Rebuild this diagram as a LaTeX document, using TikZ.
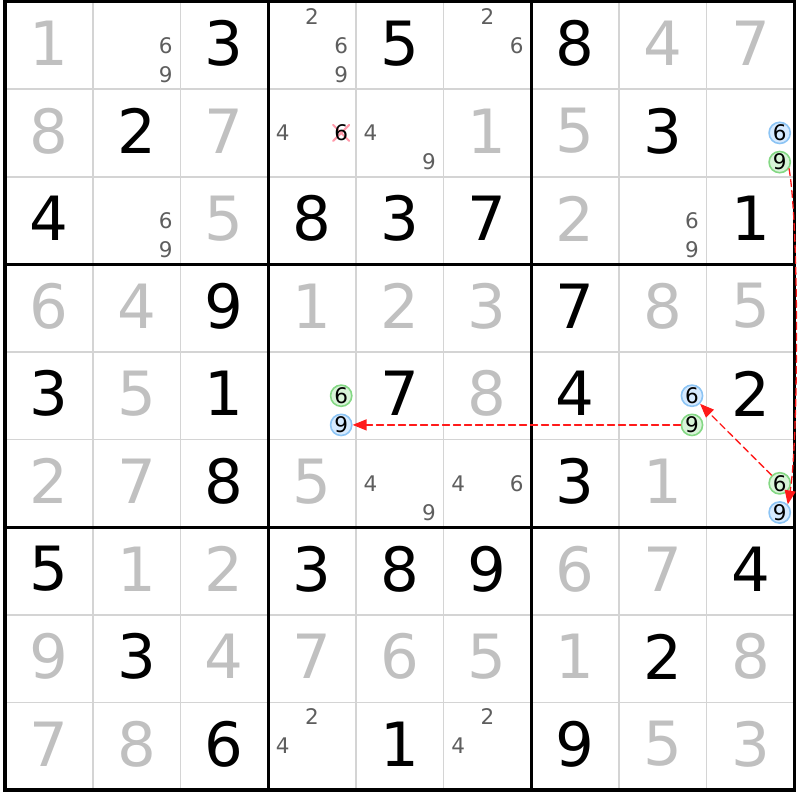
\documentclass[tikz,border=0pt]{standalone}
\usepackage{fontspec}
\setmainfont{DejaVu Sans}
\usetikzlibrary{arrows.meta}

\definecolor{solvedgrey}{HTML}{C0C0C0}
\definecolor{pencil}{HTML}{5E5E5E}
\definecolor{thingrey}{HTML}{D4D4D4}
\definecolor{bluefill}{HTML}{D6EAFF}
\definecolor{bluering}{HTML}{8CC4F4}
\definecolor{greenfill}{HTML}{D8F4D8}
\definecolor{greenring}{HTML}{84D884}
\definecolor{chainred}{HTML}{FF1A1A}
\definecolor{crosspink}{HTML}{FF9AAA}

\newcommand{\given}[3]{
  \node[given] (v#2#1) at ({#1 + 0.5}, {#2 + 0.5}) {#3};}
\newcommand{\placed}[3]{
  \node[given, text = solvedgrey] (v#2#1) at ({#1 + 0.5}, {#2 + 0.5}) {#3};}
\newcommand{\cand}[4][]{
  \node[cand, #1] (c#3#2#4) at ({#2 + (mod(#4 - 1, 3) + 0.5)/3},
  {#3 + (floor((#4 - 1)/3) + 0.5)/3}) {#4};}

\begin{document}
\begin{tikzpicture}[x = 87.7pt, y = -87.6pt, line cap = round, line join = round,
  given/.style = {font = \fontsize{61}{61}\selectfont, inner sep = 0, yshift = 2pt},
  cand/.style = {font = \fontsize{21.5}{21.5}\selectfont, text = pencil, inner sep = 0},
  bluedot/.style = {circle, draw = bluering, fill = bluefill, line width = 1.6pt,
    minimum size = 21pt, text = black},
  greendot/.style = {circle, draw = greenring, fill = greenfill, line width = 1.6pt,
    minimum size = 21pt, text = black},
  chain/.style = {draw = chainred, line width = 1.3pt, dash pattern = on 7pt off 4pt,
    -{Triangle[length = 14pt, width = 11pt]}},
  cross/.style = {draw = crosspink, line width = 2pt}]
  \useasboundingbox (-0.0570, -0.0171) rectangle (9.0650, 9.1153);

  \foreach \i in {1, ..., 8}
    \draw[thingrey, line width = 1.6pt, line cap = butt] (\i, 0) -- (\i, 9) (0, \i) -- (9, \i);
  \foreach \i in {0, 3, 6, 9}
    \draw[line width = 3.2pt, line cap = rect] (\i, 0) -- (\i, 9) (0, \i) -- (9, \i);

  \placed{0}{0}{1} \cand{1}{0}{6} \cand{1}{0}{9} \given{2}{0}{3}
  \cand{3}{0}{2} \cand{3}{0}{6} \cand{3}{0}{9} \given{4}{0}{5} \cand{5}{0}{2} \cand{5}{0}{6}
  \given{6}{0}{8} \placed{7}{0}{4} \placed{8}{0}{7}

  \placed{0}{1}{8} \given{1}{1}{2} \placed{2}{1}{7}
  \cand{3}{1}{4}
  \coordinate (x136) at ({3 + 2.5/3}, 1.5);
  \draw[cross] ([shift = {(-8pt, -8pt)}]x136) -- ([shift = {(8pt, 8pt)}]x136)
    ([shift = {(-8pt, 8pt)}]x136) -- ([shift = {(8pt, -8pt)}]x136);
  \cand[text = black]{3}{1}{6}
  \cand{4}{1}{4} \cand{4}{1}{9} \placed{5}{1}{1}
  \placed{6}{1}{5} \given{7}{1}{3} \cand[bluedot]{8}{1}{6} \cand[greendot]{8}{1}{9}

  \given{0}{2}{4} \cand{1}{2}{6} \cand{1}{2}{9} \placed{2}{2}{5}
  \given{3}{2}{8} \given{4}{2}{3} \given{5}{2}{7}
  \placed{6}{2}{2} \cand{7}{2}{6} \cand{7}{2}{9} \given{8}{2}{1}

  \placed{0}{3}{6} \placed{1}{3}{4} \given{2}{3}{9}
  \placed{3}{3}{1} \placed{4}{3}{2} \placed{5}{3}{3}
  \given{6}{3}{7} \placed{7}{3}{8} \placed{8}{3}{5}

  \given{0}{4}{3} \placed{1}{4}{5} \given{2}{4}{1}
  \cand[greendot]{3}{4}{6} \cand[bluedot]{3}{4}{9} \given{4}{4}{7} \placed{5}{4}{8}
  \given{6}{4}{4} \cand[bluedot]{7}{4}{6} \cand[greendot]{7}{4}{9} \given{8}{4}{2}

  \placed{0}{5}{2} \placed{1}{5}{7} \given{2}{5}{8}
  \placed{3}{5}{5} \cand{4}{5}{4} \cand{4}{5}{9} \cand{5}{5}{4} \cand{5}{5}{6}
  \given{6}{5}{3} \placed{7}{5}{1} \cand[greendot]{8}{5}{6} \cand[bluedot]{8}{5}{9}

  \given{0}{6}{5} \placed{1}{6}{1} \placed{2}{6}{2}
  \given{3}{6}{3} \given{4}{6}{8} \given{5}{6}{9}
  \placed{6}{6}{6} \placed{7}{6}{7} \given{8}{6}{4}

  \placed{0}{7}{9} \given{1}{7}{3} \placed{2}{7}{4}
  \placed{3}{7}{7} \placed{4}{7}{6} \placed{5}{7}{5}
  \placed{6}{7}{1} \given{7}{7}{2} \placed{8}{7}{8}

  \placed{0}{8}{7} \placed{1}{8}{8} \given{2}{8}{6}
  \cand{3}{8}{2} \cand{3}{8}{4} \given{4}{8}{1} \cand{5}{8}{2} \cand{5}{8}{4}
  \given{6}{8}{9} \placed{7}{8}{5} \placed{8}{8}{3}

  \draw[chain] (c189.-35) .. controls +(-80:60pt) and +(80:60pt) .. (c589.45);
  \draw[chain] (c586) -- (c476);
  \draw[chain] (c479) -- (c439);
\end{tikzpicture}
\end{document}
